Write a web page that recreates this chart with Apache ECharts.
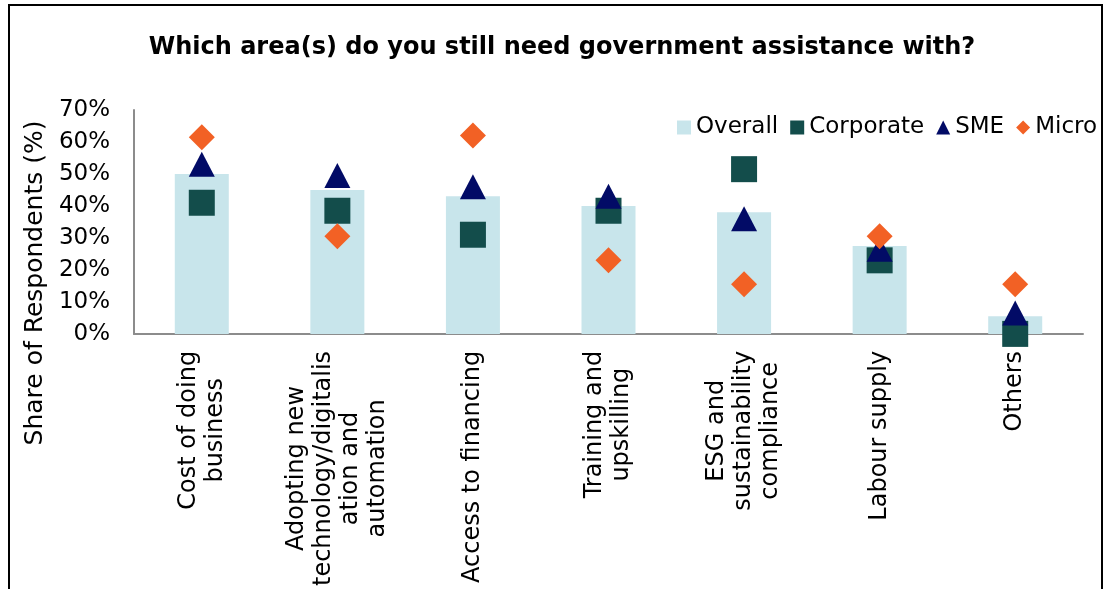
<!DOCTYPE html>
<html>
<head>
<meta charset="utf-8">
<title>Government assistance</title>
<script src="https://cdn.jsdelivr.net/npm/echarts@6/dist/echarts.min.js"></script>
<style>
  html, body { margin: 0; padding: 0; background: #fff; }
  #chart { width: 1105px; height: 589px; }
  .frame { position: absolute; left: 8px; top: 4px; width: 1091px; height: 620px;
           border: 2px solid #000; pointer-events: none; }
</style>
</head>
<body>
<div id="chart"></div>
<div class="frame"></div>
<script>
// 数据
var categories = [
    'Cost of doing\nbusiness',
    'Adopting new\ntechnology/digitalis\nation and\nautomation',
    'Access to financing',
    'Training and\nupskilling',
    'ESG and\nsustainability\ncompliance',
    'Labour supply',
    'Others'
];
var overall   = [50, 45, 43, 40, 38, 27.5, 5.5];
var corporate = [41, 38.5, 31, 38.5, 51.5, 23, 0];
var sme       = [53, 49.5, 46, 43, 36, 26.5, 6.5];
var micro     = [61.5, 30.5, 62, 23, 15.5, 30.5, 15.5];
var yTicks    = [0, 10, 20, 30, 40, 50, 60, 70];

var font = 'DejaVu Sans';

var chart = echarts.init(document.getElementById('chart'));

var option = {
    animation: false,
    title: {
        text: 'Which area(s) do you still need government assistance with?',
        left: 557,
        top: 31,
        textAlign: 'center',
        textStyle: { fontFamily: font, fontSize: 24, fontWeight: 'bold', color: '#000' }
    },
    legend: {
        left: 672,
        top: 111,
        itemWidth: 14,
        itemHeight: 14,
        itemGap: 12,
        textStyle: { fontFamily: font, fontSize: 23, color: '#000' },
        data: [
            { name: 'Overall', icon: 'rect' },
            { name: 'Corporate', icon: 'rect' },
            { name: 'SME', icon: 'triangle' },
            { name: 'Micro', icon: 'diamond' }
        ]
    },
    graphic: [{
        type: 'text',
        x: 35,
        y: 283,
        rotation: Math.PI / 2,
        style: {
            text: 'Share of Respondents (%)',
            fontFamily: font,
            fontSize: 25,
            fill: '#000',
            align: 'center',
            verticalAlign: 'middle'
        }
    }],
    grid: { left: 134, right: 22, top: 110, bottom: 254 },
    xAxis: {
        type: 'category',
        data: categories,
        axisLine: { lineStyle: { color: '#8c8c8c', width: 2 } },
        axisTick: { show: false },
        axisLabel: {
            rotate: 90,
            interval: 0,
            margin: 17,
            fontFamily: font,
            fontSize: 24,
            color: '#000',
            formatter: function (v) {
                return v.split('\n').map(function (l) { return '{c|' + l + '}'; }).join('\n');
            },
            rich: {
                c: { align: 'center', fontFamily: font, fontSize: 24, lineHeight: 27, color: '#000' }
            }
        }
    },
    yAxis: {
        type: 'value',
        min: yTicks[0],
        max: yTicks[yTicks.length - 1],
        interval: 10,
        splitLine: { show: false },
        axisLine: { show: true, lineStyle: { color: '#8c8c8c', width: 2 } },
        axisTick: { show: false },
        axisLabel: {
            margin: 24,
            fontFamily: font,
            fontSize: 23,
            color: '#000',
            formatter: '{value}%'
        }
    },
    series: [
        {
            name: 'Overall',
            type: 'bar',
            barWidth: 54,
            itemStyle: { color: '#c8e5eb' },
            data: overall
        },
        {
            name: 'Corporate',
            type: 'scatter',
            symbol: 'rect',
            symbolSize: 26,
            clip: false,
            itemStyle: { color: '#134d4b', opacity: 1 },
            data: corporate
        },
        {
            name: 'SME',
            type: 'scatter',
            symbol: 'triangle',
            symbolSize: [26, 25],
            clip: false,
            itemStyle: { color: '#020b66', opacity: 1 },
            data: sme
        },
        {
            name: 'Micro',
            type: 'scatter',
            symbol: 'diamond',
            symbolSize: 26,
            clip: false,
            itemStyle: { color: '#f26125', opacity: 1 },
            data: micro
        }
    ]
};

chart.setOption(option);
</script>
</body>
</html>
